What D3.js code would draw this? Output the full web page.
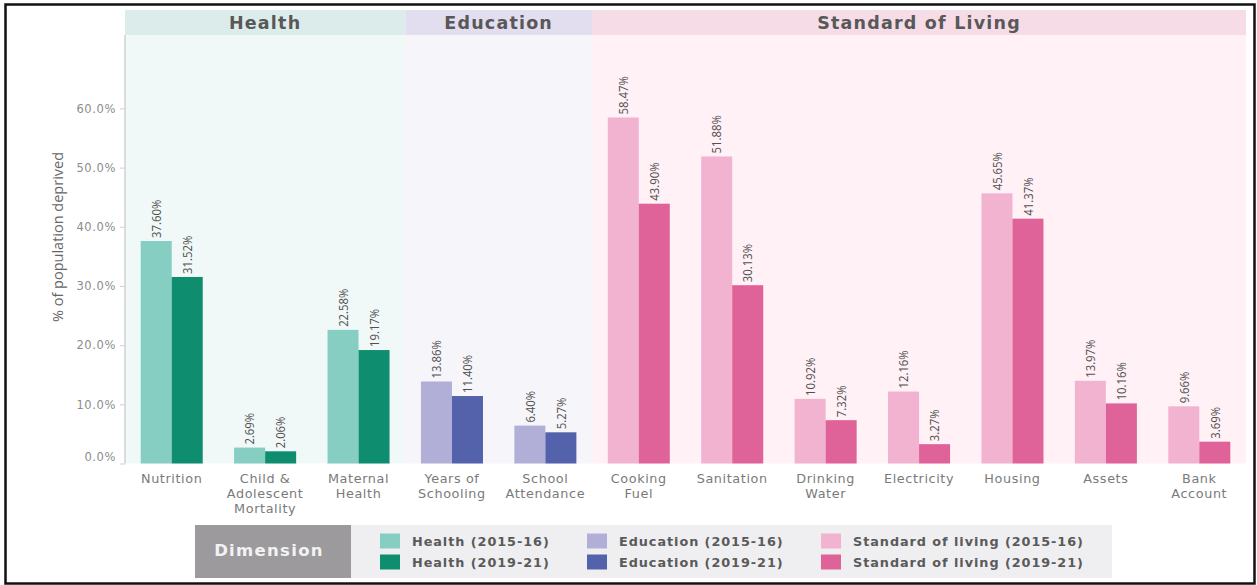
<!DOCTYPE html>
<html>
<head>
<meta charset="utf-8">
<script src="https://cdn.jsdelivr.net/npm/d3@7"></script>
<style>
  html, body { margin: 0; padding: 0; background: #ffffff; }
  svg { display: block; }
</style>
</head>
<body>
<svg id="chart" width="1257" height="585"></svg>
<script>
// Deprivation indicators (% of population deprived), grouped by MPI dimension
const categories = [
  "Nutrition", "Child &\nAdolescent\nMortality", "Maternal\nHealth",
  "Years of\nSchooling", "School\nAttendance",
  "Cooking\nFuel", "Sanitation", "Drinking\nWater", "Electricity",
  "Housing", "Assets", "Bank\nAccount"
];
const categoryDimension = [0, 0, 0, 1, 1, 2, 2, 2, 2, 2, 2, 2];
const dimensions = ["Health", "Education", "Standard of Living"];
const periods = ["2015-16", "2019-21"];
const values2015 = [37.60, 2.69, 22.58, 13.86, 6.40, 58.47, 51.88, 10.92, 12.16, 45.65, 13.97, 9.66];
const values2019 = [31.52, 2.06, 19.17, 11.40, 5.27, 43.90, 30.13, 7.32, 3.27, 41.37, 10.16, 3.69];
const yTicks = [0, 10, 20, 30, 40, 50, 60];
const legendNames = ["Health", "Education", "Standard of living"];

// colours per dimension: [earlier period, later period]
const barColors = [["#86cec2", "#0f8d6f"], ["#b1afd8", "#5461ab"], ["#f2b3d1", "#df6399"]];
const headerFill = ["#dcecea", "#e3deef", "#f5dce6"];
const panelFill = ["#f1f9f8", "#f6f5fa", "#fff1f6"];

const svg = d3.select("#chart");

// outer frame
svg.append("rect")
  .attr("x", 5.5).attr("y", 4.5).attr("width", 1249).attr("height", 579)
  .attr("fill", "none").attr("stroke", "#111").attr("stroke-width", 2.5);

const plot = { left: 125, right: 1246, top: 35, bottom: 463.5 };

const x = d3.scaleBand()
  .domain(d3.range(categories.length))
  .range([plot.left, plot.right])
  .paddingInner(0.336)
  .paddingOuter(0.168);

const xs = d3.scaleBand().domain(periods).range([0, x.bandwidth()]).padding(0);

const y = d3.scaleLinear()
  .domain([0, (plot.bottom - plot.top) / 5.918])
  .range([plot.bottom, plot.top]);

// dimension spans (header + shaded panel)
const half = x.step() * x.paddingInner() / 2;
const spans = dimensions.map((name, d) => {
  const idx = categoryDimension.map((v, i) => v === d ? i : -1).filter(i => i >= 0);
  const x0 = x(idx[0]) - half;
  const x1 = x(idx[idx.length - 1]) + x.bandwidth() + half;
  return { name, d, x0, x1 };
});

svg.append("g").selectAll("rect").data(spans).join("rect")
  .attr("x", s => s.x0).attr("y", plot.top)
  .attr("width", s => s.x1 - s.x0).attr("height", plot.bottom - plot.top)
  .attr("fill", s => panelFill[s.d]);

svg.append("g").selectAll("rect").data(spans).join("rect")
  .attr("x", s => s.x0).attr("y", 10)
  .attr("width", s => s.x1 - s.x0).attr("height", plot.top - 10)
  .attr("fill", s => headerFill[s.d]);

svg.append("g").selectAll("text").data(spans).join("text")
  .attr("x", s => (s.x0 + s.x1) / 2).attr("y", 22.5)
  .attr("text-anchor", "middle").attr("dominant-baseline", "central")
  .attr("font-family", "DejaVu Sans, sans-serif").attr("font-weight", "bold")
  .attr("font-size", 17.5).attr("letter-spacing", 1.2)
  .attr("fill", "#585858")
  .text(s => s.name);

// y axis
const yAxis = svg.append("g").attr("transform", `translate(${plot.left},0)`)
  .call(d3.axisLeft(y).tickValues(yTicks).tickSize(5).tickPadding(4)
    .tickFormat(d => d3.format(".1f")(d) + "%"));
yAxis.select(".domain").attr("stroke", "#dcdcdc").attr("stroke-width", 2)
  .attr("d", `M0,${plot.top}V${plot.bottom}`);
yAxis.selectAll(".tick line").attr("stroke", "#d0d0d0");
yAxis.selectAll(".tick text")
  .attr("font-family", "DejaVu Sans, sans-serif").attr("font-size", 11.5)
  .attr("letter-spacing", 0.6).attr("fill", "#8c8c8c");
yAxis.selectAll(".tick").filter(d => d === 0).select("text").attr("dy", "-0.25em");

svg.append("text")
  .attr("transform", `translate(57,237) rotate(-90)`)
  .attr("text-anchor", "middle").attr("dominant-baseline", "central")
  .attr("font-family", "Open Sans, sans-serif").attr("font-size", 14.5)
  .attr("fill", "#666").text("% of population deprived");

// bars
const rows = categories.map((c, i) => ({
  i, dim: categoryDimension[i],
  vals: [{ p: periods[0], v: values2015[i], k: 0 }, { p: periods[1], v: values2019[i], k: 1 }]
}));

const groups = svg.append("g").selectAll("g").data(rows).join("g")
  .attr("transform", r => `translate(${x(r.i)},0)`);

groups.selectAll("rect").data(r => r.vals.map(v => ({ ...v, dim: r.dim }))).join("rect")
  .attr("x", v => xs(v.p)).attr("width", xs.bandwidth())
  .attr("y", v => y(v.v)).attr("height", v => y(0) - y(v.v))
  .attr("fill", v => barColors[v.dim][v.k]);

groups.selectAll("text").data(r => r.vals).join("text")
  .attr("transform", v => `translate(${xs(v.p) + xs.bandwidth() / 2},${y(v.v) - 3}) rotate(-90) scale(0.84,1)`)
  .attr("dy", "0.35em")
  .attr("font-family", "Open Sans, sans-serif").attr("font-size", 13.5)
  .attr("fill", "#505050")
  .text(v => d3.format(".2f")(v.v) + "%");

// category labels
const catLabels = svg.append("g").selectAll("text").data(rows).join("text")
  .attr("x", r => x(r.i) + x.bandwidth() / 2)
  .attr("y", 483)
  .attr("text-anchor", "middle")
  .attr("font-family", "DejaVu Sans, sans-serif").attr("font-size", 12.8)
  .attr("letter-spacing", 0.6).attr("fill", "#7a7a7a");
catLabels.selectAll("tspan").data(r => categories[r.i].split("\n")).join("tspan")
  .attr("x", function () { return d3.select(this.parentNode).attr("x"); })
  .attr("dy", (d, k) => k === 0 ? 0 : 15)
  .text(d => d);

// legend
const legend = svg.append("g");
legend.append("rect").attr("x", 195).attr("y", 525).attr("width", 156).attr("height", 53)
  .attr("fill", "#9d9a9e");
legend.append("rect").attr("x", 351).attr("y", 525).attr("width", 761).attr("height", 53)
  .attr("fill", "#efeff1");
legend.append("text").attr("x", 269).attr("y", 550.5)
  .attr("text-anchor", "middle").attr("dominant-baseline", "central")
  .attr("font-family", "DejaVu Sans, sans-serif").attr("font-weight", "bold")
  .attr("font-size", 16.5).attr("letter-spacing", 1.3).attr("fill", "#f3f3f3")
  .text("Dimension");

const colX = [380, 587, 821];
const rowY = [533.5, 554.5];
legendNames.forEach((name, d) => {
  periods.forEach((p, k) => {
    legend.append("rect").attr("x", colX[d]).attr("y", rowY[k])
      .attr("width", 20).attr("height", 15).attr("fill", barColors[d][k]);
    legend.append("text").attr("x", colX[d] + 32).attr("y", rowY[k] + 7.5)
      .attr("dominant-baseline", "central")
      .attr("font-family", "DejaVu Sans, sans-serif").attr("font-weight", "bold")
      .attr("font-size", 12.8).attr("letter-spacing", 0.95).attr("fill", "#5a5a5a")
      .text(`${name} (${p})`);
  });
});
</script>
</body>
</html>
